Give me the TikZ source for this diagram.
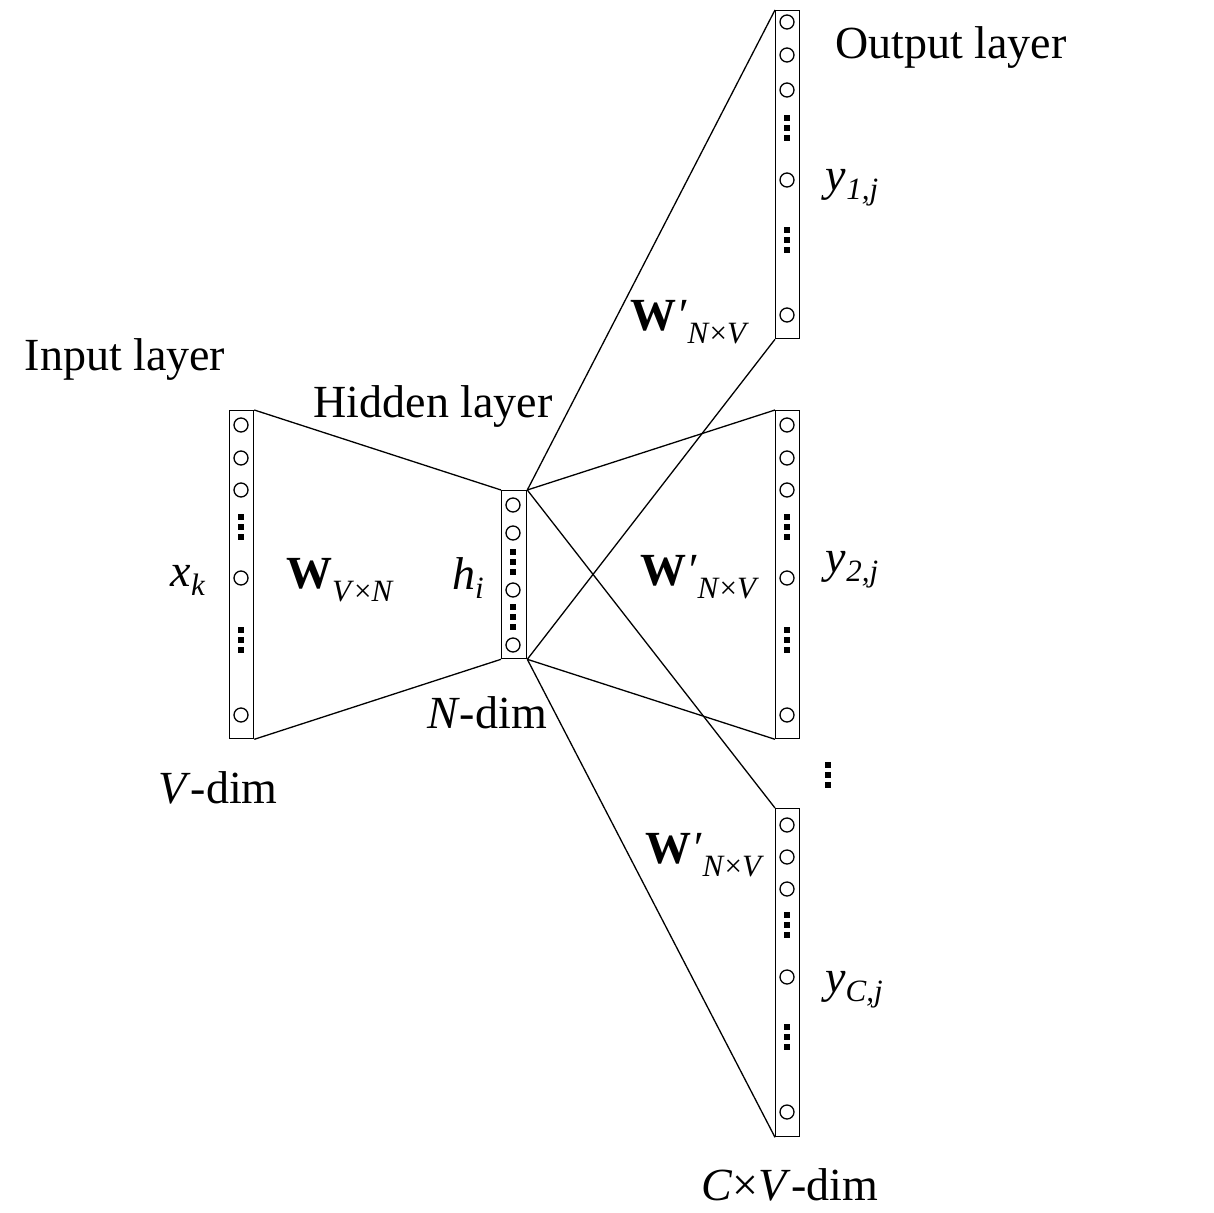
\documentclass[tikz,border=0pt]{standalone}
\usepackage{fontspec}
\setmainfont{Liberation Serif}
\begin{document}
\begin{tikzpicture}[x=1pt,y=-1pt,line width=1.3pt,
  col/.style={draw,minimum width=24pt,minimum height=#1,inner sep=0pt,anchor=north west},
  neu/.style={draw,circle,minimum size=14pt,inner sep=0pt},
  lab/.style={font=\fontsize{46}{48}\selectfont,inner sep=0pt}]
\useasboundingbox (0,0) rectangle (1214,1212);
\newcommand{\vdotsq}[2]{\foreach \d in {-10,0,10}{\fill (#1-3,#2+\d-3) rectangle (#1+3,#2+\d+3);}}
\newcommand{\sbx}[2]{\raisebox{#1}{\fontsize{31}{33}\selectfont #2}}
% columns
\node[col=328pt] (in) at (229,410) {};
\node[col=168pt,minimum width=25pt] (hid) at (501,490) {};
\node[col=328pt] (o1) at (775,10) {};
\node[col=328pt] (o2) at (775,410) {};
\node[col=328pt] (oc) at (775,808) {};
% neurons
\foreach \y [count=\i] in {425,458,490,578,715}{\node[neu] (in\i) at (241,\y) {};}
\vdotsq{241}{527}\vdotsq{241}{640}
\foreach \y [count=\i] in {425,458,490,578,715}{\node[neu] (otwo\i) at (787,\y) {};}
\vdotsq{787}{527}\vdotsq{787}{640}
\foreach \y [count=\i] in {22,55,90,180,315}{\node[neu] (oone\i) at (787,\y) {};}
\vdotsq{787}{128}\vdotsq{787}{240}
\foreach \y [count=\i] in {825,857,889,977,1112}{\node[neu] (oc\i) at (787,\y) {};}
\vdotsq{787}{925}\vdotsq{787}{1037}
\foreach \y [count=\i] in {505,533,590,645}{\node[neu] (h\i) at (513,\y) {};}
\vdotsq{513}{562}\vdotsq{513}{617}
\vdotsq{828}{775}
% connectors
\draw (in.north east) -- (hid.north west);
\draw (in.south east) -- (hid.south west);
\foreach \o in {o1,o2,oc}{
 \draw (hid.north east) -- (\o.north west);
 \draw (hid.south east) -- (\o.south west);}
% labels
\node[lab] (t1) at (951,48) {Output layer};
\node[lab] (t2) at (125,360) {Input layer};
\node[lab] (t3) at (433,407) {Hidden layer};
\node[lab] (t4) at (487,713) {\textit{N}-dim};
\node[lab] (t5) at (218,788) {\textit{V}-dim};
\node[lab] (t6) at (790,1185) {\textit{C}×\textit{V}-dim};
\node[lab] (x) at (188,580) {\textit{x}\sbx{-9pt}{\textit{k}}};
\node[lab] (h) at (468,578) {\textit{h}\sbx{-9pt}{\textit{i}}};
\node[lab] (w) at (340,580) {\textbf{W}\sbx{-13pt}{\textit{V}×\textit{N}}};
\foreach \p/\n in {{(690,322)}/wa,{(700,577)}/wb,{(705,855)}/wc}
  \node[lab] (\n) at \p {\textbf{W}\textit{′}\sbx{-13pt}{\textit{N}×\textit{V}}};
\node[lab] (y1) at (852,188) {\textit{y}\sbx{-9pt}{\textit{1,j}}};
\node[lab] (y2) at (852,570) {\textit{y}\sbx{-9pt}{\textit{2,j}}};
\node[lab] (yc) at (854,990) {\textit{y}\sbx{-9pt}{\textit{C,j}}};
\end{tikzpicture}
\end{document}
